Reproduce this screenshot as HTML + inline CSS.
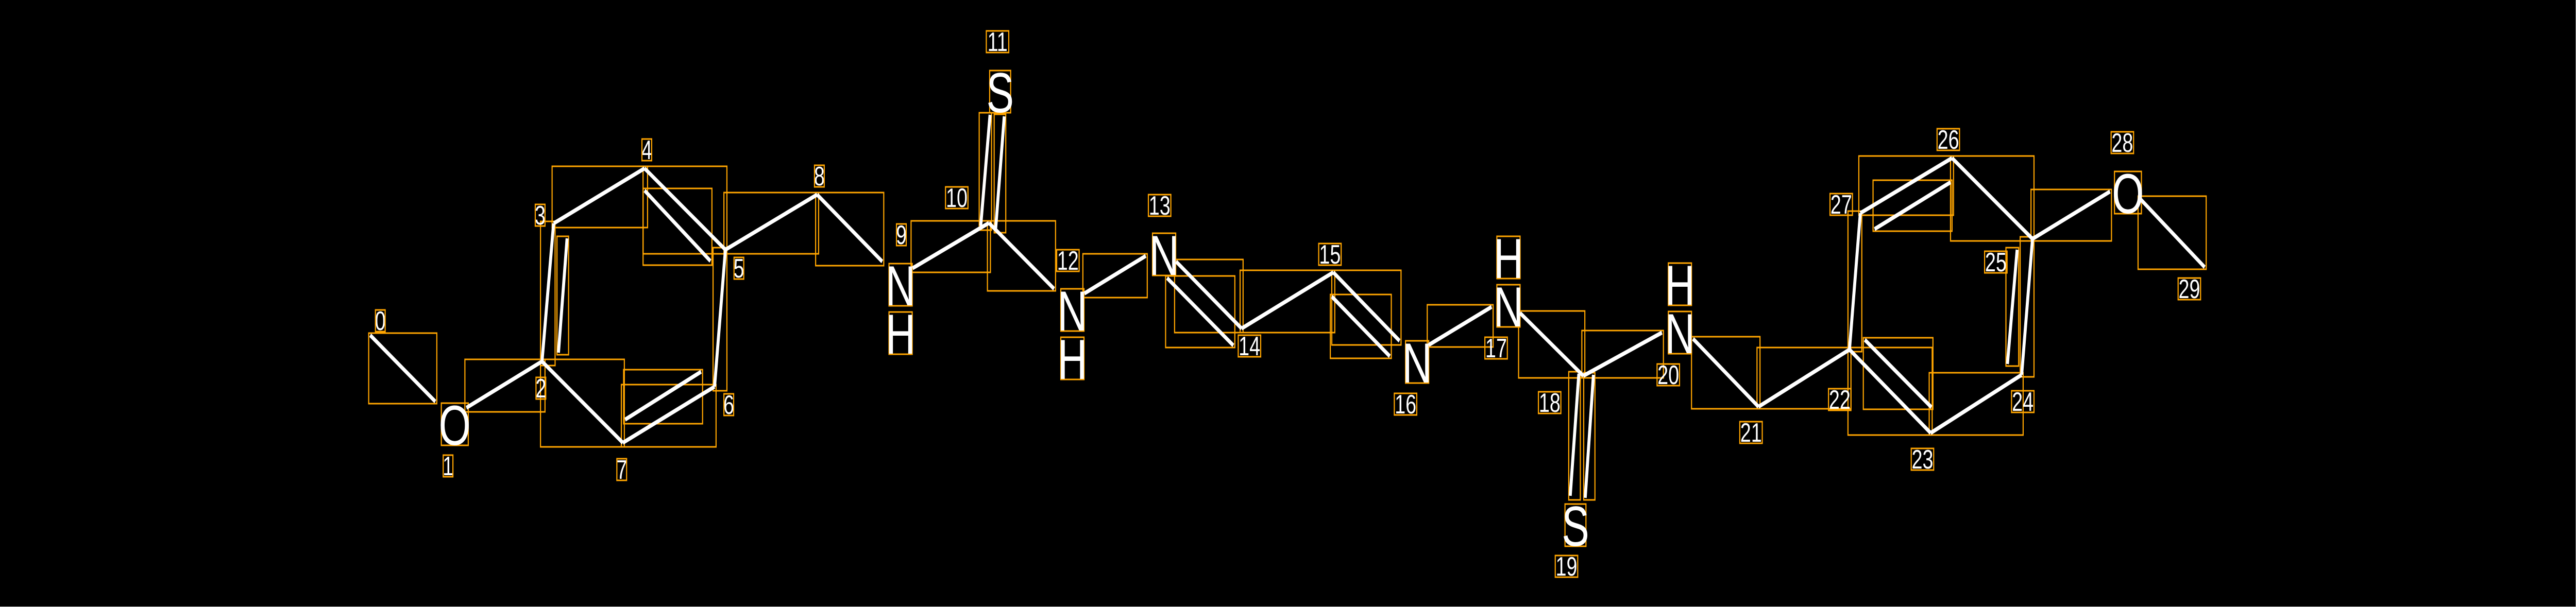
<!DOCTYPE html>
<html><head><meta charset="utf-8"><style>
html,body{margin:0;padding:0;background:#000;width:100%;height:100%;overflow:hidden;}
svg{display:block;width:100vw;height:100vh;}
.b{stroke:#fff;stroke-width:8;}
.o{fill:none;stroke:#FFA500;stroke-width:3;}
.a{fill:#fff;font-family:"Liberation Sans",sans-serif;font-size:110px;text-anchor:middle;}
.d{fill:#fff;font-family:"Liberation Sans",sans-serif;font-size:52px;text-anchor:middle;}
</style></head><body>
<svg viewBox="0 0 6882 1179" preserveAspectRatio="none" xmlns="http://www.w3.org/2000/svg">
<rect x="0" y="0" width="6882" height="1179" fill="#000"/>
<line x1="6881.5" y1="0" x2="6881.5" y2="1179" stroke="#bbb" stroke-width="1"/>
<line x1="0" y1="1178.5" x2="6882" y2="1178.5" stroke="#bbb" stroke-width="1"/>
<g class="o">
<rect x="985" y="647" width="182" height="137"/>
<rect x="1242" y="698" width="214" height="102"/>
<rect x="1444" y="430" width="39" height="280"/>
<rect x="1488" y="459" width="31" height="230"/>
<rect x="1475" y="323" width="255" height="119"/>
<rect x="1718" y="323" width="224" height="170"/>
<rect x="1718" y="366" width="184" height="149"/>
<rect x="1905" y="481" width="37" height="278"/>
<rect x="1660" y="747" width="253" height="121"/>
<rect x="1666" y="718" width="211" height="105"/>
<rect x="1444" y="698" width="224" height="170"/>
<rect x="1934" y="374" width="253" height="119"/>
<rect x="2179" y="374" width="182" height="142"/>
<rect x="2434" y="429" width="212" height="100"/>
<rect x="2616" y="219" width="33" height="228"/>
<rect x="2656" y="222" width="31" height="230"/>
<rect x="2638" y="429" width="182" height="136"/>
<rect x="2893" y="493" width="172" height="85"/>
<rect x="3138" y="504" width="183" height="142"/>
<rect x="3114" y="536" width="185" height="139"/>
<rect x="3313" y="525" width="253" height="121"/>
<rect x="3558" y="525" width="185" height="145"/>
<rect x="3554" y="572" width="163" height="124"/>
<rect x="3813" y="592" width="176" height="82"/>
<rect x="4057" y="604" width="177" height="130"/>
<rect x="4191" y="722" width="31" height="249"/>
<rect x="4231" y="724" width="30" height="247"/>
<rect x="4226" y="642" width="218" height="92"/>
<rect x="4519" y="654" width="183" height="140"/>
<rect x="4694" y="675" width="251" height="119"/>
<rect x="4937" y="675" width="225" height="170"/>
<rect x="4978" y="656" width="186" height="139"/>
<rect x="5154" y="724" width="251" height="121"/>
<rect x="5397" y="460" width="37" height="272"/>
<rect x="5359" y="481" width="34" height="230"/>
<rect x="5211" y="303" width="223" height="165"/>
<rect x="4966" y="303" width="253" height="115"/>
<rect x="5004" y="350" width="211" height="99"/>
<rect x="4937" y="410" width="37" height="273"/>
<rect x="5426" y="368" width="215" height="100"/>
<rect x="5712" y="381" width="182" height="142"/>
<rect x="1179" y="783" width="72" height="82"/>
<rect x="2375" y="512" width="62" height="82"/>
<rect x="2375" y="606" width="62" height="82"/>
<rect x="2644" y="137" width="56" height="82"/>
<rect x="2834" y="561" width="62" height="82"/>
<rect x="2834" y="655" width="62" height="82"/>
<rect x="3079" y="453" width="62" height="82"/>
<rect x="3755" y="662" width="62" height="82"/>
<rect x="3999" y="553" width="62" height="82"/>
<rect x="3999" y="459" width="62" height="82"/>
<rect x="4181" y="979" width="56" height="82"/>
<rect x="4457" y="605" width="62" height="82"/>
<rect x="4457" y="511" width="62" height="82"/>
<rect x="5649" y="333" width="72" height="82"/>
</g>
<g class="b">
<line x1="989" y1="651" x2="1163" y2="780"/>
<line x1="1246" y1="792" x2="1448" y2="702"/>
<line x1="1448" y1="702" x2="1479" y2="434"/>
<line x1="1515" y1="463" x2="1492" y2="685"/>
<line x1="1479" y1="434" x2="1722" y2="327"/>
<line x1="1722" y1="327" x2="1938" y2="485"/>
<line x1="1722" y1="370" x2="1898" y2="507"/>
<line x1="1938" y1="485" x2="1909" y2="751"/>
<line x1="1909" y1="751" x2="1664" y2="860"/>
<line x1="1873" y1="722" x2="1670" y2="815"/>
<line x1="1664" y1="860" x2="1448" y2="702"/>
<line x1="1938" y1="485" x2="2183" y2="378"/>
<line x1="2183" y1="378" x2="2357" y2="508"/>
<line x1="2438" y1="521" x2="2642" y2="433"/>
<line x1="2620" y1="439" x2="2645" y2="223"/>
<line x1="2660" y1="444" x2="2683" y2="226"/>
<line x1="2642" y1="433" x2="2816" y2="561"/>
<line x1="2897" y1="570" x2="3061" y2="497"/>
<line x1="3142" y1="508" x2="3317" y2="638"/>
<line x1="3118" y1="540" x2="3295" y2="671"/>
<line x1="3317" y1="638" x2="3562" y2="529"/>
<line x1="3562" y1="529" x2="3739" y2="662"/>
<line x1="3558" y1="576" x2="3713" y2="692"/>
<line x1="3817" y1="670" x2="3985" y2="596"/>
<line x1="4061" y1="608" x2="4230" y2="730"/>
<line x1="4195" y1="963" x2="4218" y2="726"/>
<line x1="4235" y1="967" x2="4257" y2="728"/>
<line x1="4230" y1="730" x2="4440" y2="646"/>
<line x1="4523" y1="658" x2="4698" y2="790"/>
<line x1="4698" y1="790" x2="4941" y2="679"/>
<line x1="4941" y1="679" x2="5158" y2="841"/>
<line x1="4982" y1="660" x2="5160" y2="791"/>
<line x1="5158" y1="841" x2="5401" y2="728"/>
<line x1="5401" y1="728" x2="5430" y2="464"/>
<line x1="5363" y1="707" x2="5389" y2="485"/>
<line x1="5430" y1="464" x2="5215" y2="307"/>
<line x1="5215" y1="307" x2="4970" y2="414"/>
<line x1="5211" y1="354" x2="5008" y2="445"/>
<line x1="4970" y1="414" x2="4941" y2="679"/>
<line x1="5430" y1="464" x2="5637" y2="372"/>
<line x1="5716" y1="385" x2="5890" y2="519"/>
</g>
<g class="a">
<text x="1215" y="864">O</text>
<text x="2406" y="593">N</text>
<text x="2406" y="687">H</text>
<text x="2672" y="218">S</text>
<text x="2865" y="642">N</text>
<text x="2865" y="736">H</text>
<text x="3110" y="534">N</text>
<text x="3786" y="743">N</text>
<text x="4030" y="634">N</text>
<text x="4030" y="540">H</text>
<text x="4209" y="1060">S</text>
<text x="4488" y="686">N</text>
<text x="4488" y="592">H</text>
<text x="5685" y="414">O</text>
</g>
<g class="d">
<text x="1016" y="641">0</text>
<text x="1197" y="923">1</text>
<text x="1445" y="772">2</text>
<text x="1443" y="436">3</text>
<text x="1728" y="309">4</text>
<text x="1974" y="539">5</text>
<text x="1947" y="804">6</text>
<text x="1661" y="930">7</text>
<text x="2189" y="360">8</text>
<text x="2408" y="474">9</text>
<text x="2556" y="402">10</text>
<text x="2665" y="99">11</text>
<text x="2853" y="524">12</text>
<text x="3098" y="417">13</text>
<text x="3338" y="690">14</text>
<text x="3553" y="512">15</text>
<text x="3755" y="803">16</text>
<text x="3997" y="694">17</text>
<text x="4140" y="800">18</text>
<text x="4185" y="1118">19</text>
<text x="4457" y="746">20</text>
<text x="4678" y="858">21</text>
<text x="4915" y="794">22</text>
<text x="5136" y="910">23</text>
<text x="5404" y="798">24</text>
<text x="5332" y="527">25</text>
<text x="5205" y="289">26</text>
<text x="4919" y="415">27</text>
<text x="5670" y="295">28</text>
<text x="5849" y="579">29</text>
</g>
<g class="o">
<rect x="1003" y="602" width="26" height="42"/>
<rect x="1184" y="884" width="26" height="42"/>
<rect x="1432" y="733" width="26" height="42"/>
<rect x="1430" y="397" width="26" height="42"/>
<rect x="1715" y="270" width="26" height="42"/>
<rect x="1961" y="500" width="26" height="42"/>
<rect x="1934" y="765" width="26" height="42"/>
<rect x="1648" y="891" width="26" height="42"/>
<rect x="2176" y="321" width="26" height="42"/>
<rect x="2395" y="435" width="26" height="42"/>
<rect x="2526" y="363" width="60" height="42"/>
<rect x="2635" y="60" width="60" height="42"/>
<rect x="2823" y="485" width="60" height="42"/>
<rect x="3068" y="378" width="60" height="42"/>
<rect x="3308" y="651" width="60" height="42"/>
<rect x="3523" y="473" width="60" height="42"/>
<rect x="3725" y="764" width="60" height="42"/>
<rect x="3967" y="655" width="60" height="42"/>
<rect x="4110" y="761" width="60" height="42"/>
<rect x="4155" y="1079" width="60" height="42"/>
<rect x="4427" y="707" width="60" height="42"/>
<rect x="4648" y="819" width="60" height="42"/>
<rect x="4885" y="755" width="60" height="42"/>
<rect x="5106" y="871" width="60" height="42"/>
<rect x="5374" y="759" width="60" height="42"/>
<rect x="5302" y="488" width="60" height="42"/>
<rect x="5175" y="250" width="60" height="42"/>
<rect x="4889" y="376" width="60" height="42"/>
<rect x="5640" y="256" width="60" height="42"/>
<rect x="5819" y="540" width="60" height="42"/>
</g>
</svg>
</body></html>
